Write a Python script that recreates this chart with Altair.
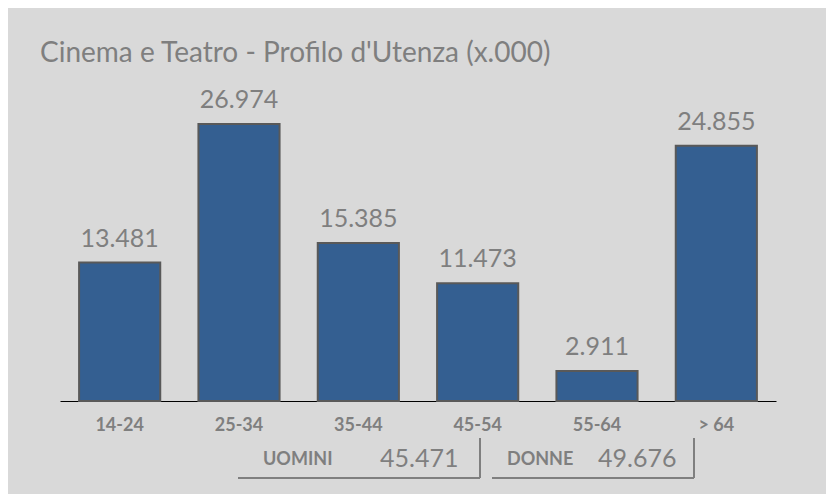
import altair as alt
import pandas as pd

categories = ["14-24", "25-34", "35-44", "45-54", "55-64", "> 64"]
values = [13.481, 26.974, 15.385, 11.473, 2.911, 24.855]
value_labels = ["13.481", "26.974", "15.385", "11.473", "2.911", "24.855"]
groups = ["UOMINI", "DONNE"]
group_totals = ["45.471", "49.676"]
title_text = "Cinema e Teatro - Profilo d'Utenza (x.000)"

FONT = "Lato"
GREY = "#7f7f7f"
BAR = "#345f91"

df = pd.DataFrame({"cat": categories, "val": values, "lab": value_labels})

x = alt.X(
    "cat:N",
    sort=categories,
    scale=alt.Scale(paddingInner=0.32, paddingOuter=0.16),
    axis=alt.Axis(
        title=None, labelAngle=0, labelFont=FONT, labelFontSize=18,
        labelFontWeight="bold", labelColor=GREY, labelPadding=15,
        ticks=False, domainColor="#000000", domainWidth=1, grid=False,
    ),
)
y = alt.Y("val:Q", scale=alt.Scale(domain=[0, 30]), axis=None)

base = alt.Chart(df)
bars = base.mark_bar(color=BAR, stroke="#595959", strokeWidth=2).encode(x=x, y=y)
labels = base.mark_text(
    dy=-16, baseline="alphabetic", fontSize=25, font=FONT, color=GREY
).encode(x=x, y=y, text="lab:N")

title = alt.Chart(pd.DataFrame({"t": [title_text]})).mark_text(
    align="left", baseline="alphabetic", fontSize=28, font=FONT, color=GREY
).encode(x=alt.value(-20), y=alt.value(-31), text="t:N")

# annotation layout (pixel positions relative to plot origin)
name_x = [203, 447]
total_x = [320, 538]
hline = [(178, 420), (432, 634)]
vline_x = [420, 634]

ann_layers = []
for i, g in enumerate(groups):
    d = pd.DataFrame({"name": [g], "total": [group_totals[i]]})
    c = alt.Chart(d)
    ann_layers.append(
        c.mark_text(align="left", baseline="alphabetic", fontSize=18,
                    fontWeight="bold", font=FONT, color=GREY)
        .encode(x=alt.value(name_x[i]), y=alt.value(372), text="name:N")
    )
    ann_layers.append(
        c.mark_text(align="left", baseline="alphabetic", fontSize=25,
                    font=FONT, color=GREY)
        .encode(x=alt.value(total_x[i]), y=alt.value(374), text="total:N")
    )
    ann_layers.append(
        c.mark_rule(color=GREY, strokeWidth=2)
        .encode(x=alt.value(hline[i][0]), x2=alt.value(hline[i][1]), y=alt.value(385))
    )
    ann_layers.append(
        c.mark_rule(color=GREY, strokeWidth=2)
        .encode(x=alt.value(vline_x[i]), y=alt.value(345), y2=alt.value(385))
    )

chart = alt.layer(bars, labels, title, *ann_layers).properties(
    width=716,
    height=308,
    autosize=alt.AutoSizeParams(type="none"),
    padding={"left": 52, "top": 85, "right": 50, "bottom": 93},
    background="#d9d9d9",
).configure_view(stroke=None)

chart.save("out.html", embed_options={"renderer": "svg", "actions": False})
